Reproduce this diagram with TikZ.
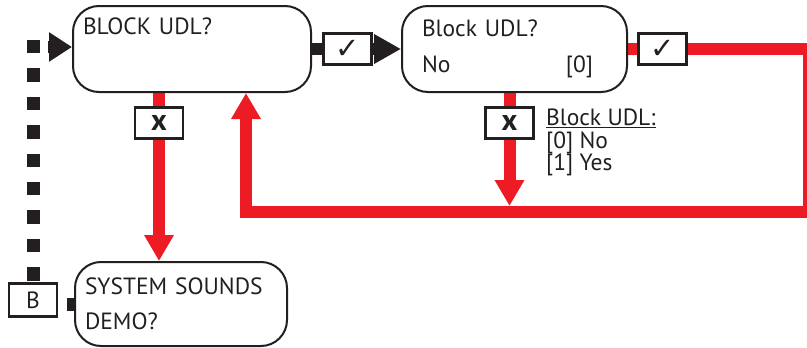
\documentclass[tikz,border=0pt]{standalone}
\usepackage{fontspec}
\setmainfont{PT Sans}
\newfontfamily\symfont{DejaVu Sans}
\usetikzlibrary{arrows.meta,positioning,backgrounds}
\definecolor{ink}{HTML}{231F20}
\definecolor{udlred}{HTML}{ED1C24}
\tikzset{
    block/.style = {draw=ink, rounded corners=26pt, line width=2pt,
        minimum height=86pt, inner xsep=10pt, align=left},
    tag/.style = {draw=ink, fill=white, line width=2.5pt,
        minimum width=48pt, minimum height=31pt, inner sep=0pt},
    yesline/.style = {draw=ink, line width=12pt, -{Triangle[length=27pt,width=28pt]}},
    noline/.style = {draw=udlred, line width=12pt, -{Triangle[length=26pt,width=28pt]}},
    dots/.style = {draw=ink, line width=13pt, dash pattern=on 13.4pt off 15pt}
}

\begin{document}
\begin{tikzpicture}[x=1pt, y=-1pt, text=ink, font=\fontsize{23.5}{35.5}\selectfont]
        \useasboundingbox (0,0) rectangle (807,348);
        % menu screens
        \node [block, text width=218pt] at (192,49) (askudl) {BLOCK UDL?\\ \strut};
        \node [block, right of=askudl, node distance=322.5pt, inner xsep=20pt, text width=185pt] (setudl) {Block UDL?\\No\hfill[0]\hspace*{14pt}};
        \node [block, text width=192pt, minimum height=84pt] at (181,304) (sysdemo) {SYSTEM SOUNDS\\DEMO?};
        \node [tag, minimum height=33pt] at (33,300) (jumpb) {B};
        % yes / no tags
        \node [tag, right=10pt of askudl.east, font=\symfont\fontsize{29}{29}\selectfont] (yes1) {✓};
        \node [tag, right=9pt of setudl.east, font=\symfont\fontsize{29}{29}\selectfont] (yes2) {✓};
        \node [tag, font=\bfseries\fontsize{30}{30}\selectfont] at (159,123) (no1) {x};
        \node [tag, font=\bfseries\fontsize{30}{30}\selectfont] at (509.5,123) (no2) {x};
        \node [anchor=north west, align=left, inner sep=0pt, font=\fontsize{23.5}{22.5}\selectfont] at (546,109) (udlnote) {\underline{Block UDL:}\\{}[0] No\\{}[1] Yes};
        \coordinate (entry) at (48,47);
        \coordinate (drop) at (509.5,206);
        \coordinate (rcorner) at (808.5,212);
        \coordinate (lcorner) at (246,212);
        \begin{scope}[on background layer]
            \draw [dots] (33,40) -- (jumpb.north);
            \draw [dots, dash phase=6.7pt] (sysdemo.west) -- (sysdemo.west -| jumpb.east);
            \draw [yesline, -{Triangle[length=23pt,width=28pt]}] (entry) -- (entry -| askudl.west);
            \draw [yesline] (askudl.east) -- (setudl.west);
            \draw [noline] (no1 |- askudl.south) -- (no1 |- sysdemo.north);
            \draw [noline] (no2 |- setudl.south) -- (drop);
            \draw [noline] (setudl.east) -| (rcorner) -- (lcorner) -- (lcorner |- askudl.south);
        \end{scope}
\end{tikzpicture}
\end{document}
